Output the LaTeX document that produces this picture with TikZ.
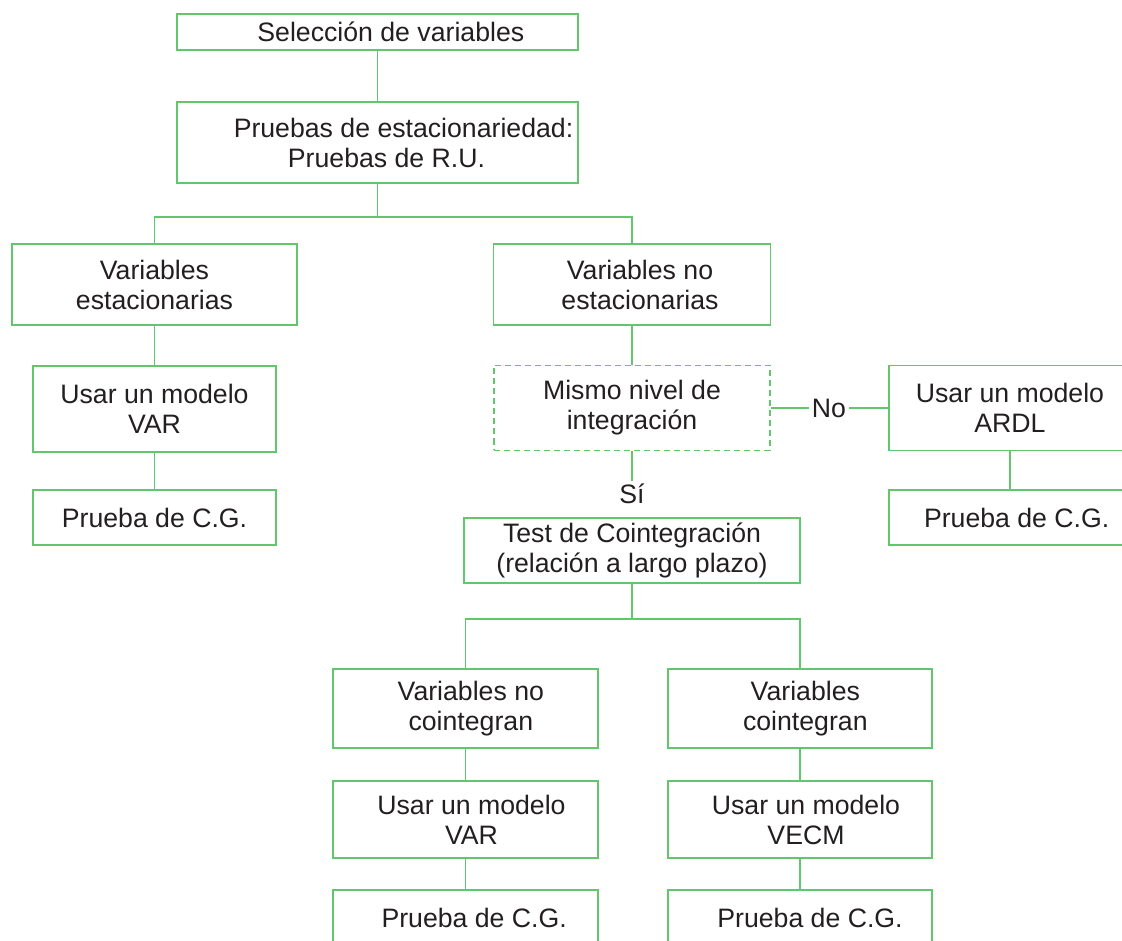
\documentclass[tikz,border=0pt]{standalone}
\usepackage{fontspec}
\setmainfont{Liberation Sans}
\definecolor{boxgreen}{RGB}{98,198,108}
\definecolor{inkgray}{RGB}{35,31,32}
\tikzset{
  box/.style={draw=boxgreen, line width=1.4pt, rectangle, align=center, inner sep=0pt, text=inkgray},
  dashbox/.style={box, dash pattern=on 4.5pt off 3pt},
  link/.style={draw=boxgreen, line width=1.4pt},
  tag/.style={text=inkgray, inner sep=2pt}
}
\begin{document}
\begin{tikzpicture}[x=0.75pt, y=-0.75pt, font=\fontsize{20}{22.5}\selectfont]
\useasboundingbox (0,0) rectangle (1122,941);
\clip (0,0) rectangle (1122,941);
\node[box, minimum width=401*0.75pt, minimum height=36*0.75pt] (sel) at (377.5,32) {\hspace{20pt}Selección de variables};
\node[box, minimum width=401*0.75pt, minimum height=81*0.75pt] (pru) at (377.5,142.5) {\hspace{39pt}Pruebas de estacionariedad:\\\hspace{13.5pt}Pruebas de R.U.};
\node[box, minimum width=285*0.75pt, minimum height=81*0.75pt] (est) at (154.5,284.5) {Variables\\estacionarias};
\node[box, minimum width=277*0.75pt, minimum height=81*0.75pt] (noest) at (632,284.5) {\hspace{12pt}Variables no\\\hspace{12pt}estacionarias};
\node[box, minimum width=243*0.75pt, minimum height=86*0.75pt] (var1) at (154.5,409) {Usar un modelo\\VAR};
\node[box, minimum width=243*0.75pt, minimum height=55*0.75pt] (cg1) at (154.5,517.5) {Prueba de C.G.};
\node[dashbox, minimum width=276*0.75pt, minimum height=85*0.75pt] (mismo) at (632,408) {Mismo nivel de\\integración};
\node[box, minimum width=242*0.75pt, minimum height=85*0.75pt] (ardl) at (1010,408) {Usar un modelo\\ARDL};
\node[box, minimum width=242*0.75pt, minimum height=55*0.75pt] (cg2) at (1010,517.5) {\hspace{10pt}Prueba de C.G.};
\node[tag] (no) at (829,408) {No};
\node[tag] (si) at (632,494) {Sí};
\node[box, minimum width=336*0.75pt, minimum height=65*0.75pt] (test) at (632,550.5) {Test de Cointegración\\(relación a largo plazo)};
\node[box, minimum width=265*0.75pt, minimum height=79*0.75pt] (noco) at (465.5,708.5) {\hspace{8pt}Variables no\\\hspace{8pt}cointegran};
\node[box, minimum width=264*0.75pt, minimum height=79*0.75pt] (co) at (800,708.5) {\hspace{8pt}Variables\\\hspace{8pt}cointegran};
\node[box, minimum width=265*0.75pt, minimum height=77*0.75pt] (var2) at (465.5,819.5) {\hspace{9pt}Usar un modelo\\\hspace{9pt}VAR};
\node[box, minimum width=264*0.75pt, minimum height=77*0.75pt] (vecm) at (800,819.5) {\hspace{9pt}Usar un modelo\\\hspace{9pt}VECM};
\node[box, minimum width=265*0.75pt, minimum height=55*0.75pt] (cg3) at (465.5,917.5) {\hspace{13pt}Prueba de C.G.};
\node[box, minimum width=264*0.75pt, minimum height=55*0.75pt] (cg4) at (800,917.5) {\hspace{15pt}Prueba de C.G.};
\draw[link] (sel.south) -- (pru.north);
\draw[link] (pru.south) -- ++(0,33) -| (est.north);
\draw[link] (pru.south) ++(0,33) -| (noest.north);
\draw[link] (est.south) -- (var1.north);
\draw[link] (var1.south) -- (cg1.north);
\draw[link] (noest.south) -- (mismo.north);
\draw[link] (mismo.east) -- (no.west);
\draw[link] (no.east) -- (ardl.west);
\draw[link] (ardl.south) -- (cg2.north);
\draw[link] (mismo.south) -- (si.north);
\draw[link] (test.south) -- ++(0,35) -| (noco.north);
\draw[link] (test.south) ++(0,35) -| (co.north);
\draw[link] (noco.south) -- (var2.north);
\draw[link] (var2.south) -- (cg3.north);
\draw[link] (co.south) -- (vecm.north);
\draw[link] (vecm.south) -- (cg4.north);
\end{tikzpicture}
\end{document}
